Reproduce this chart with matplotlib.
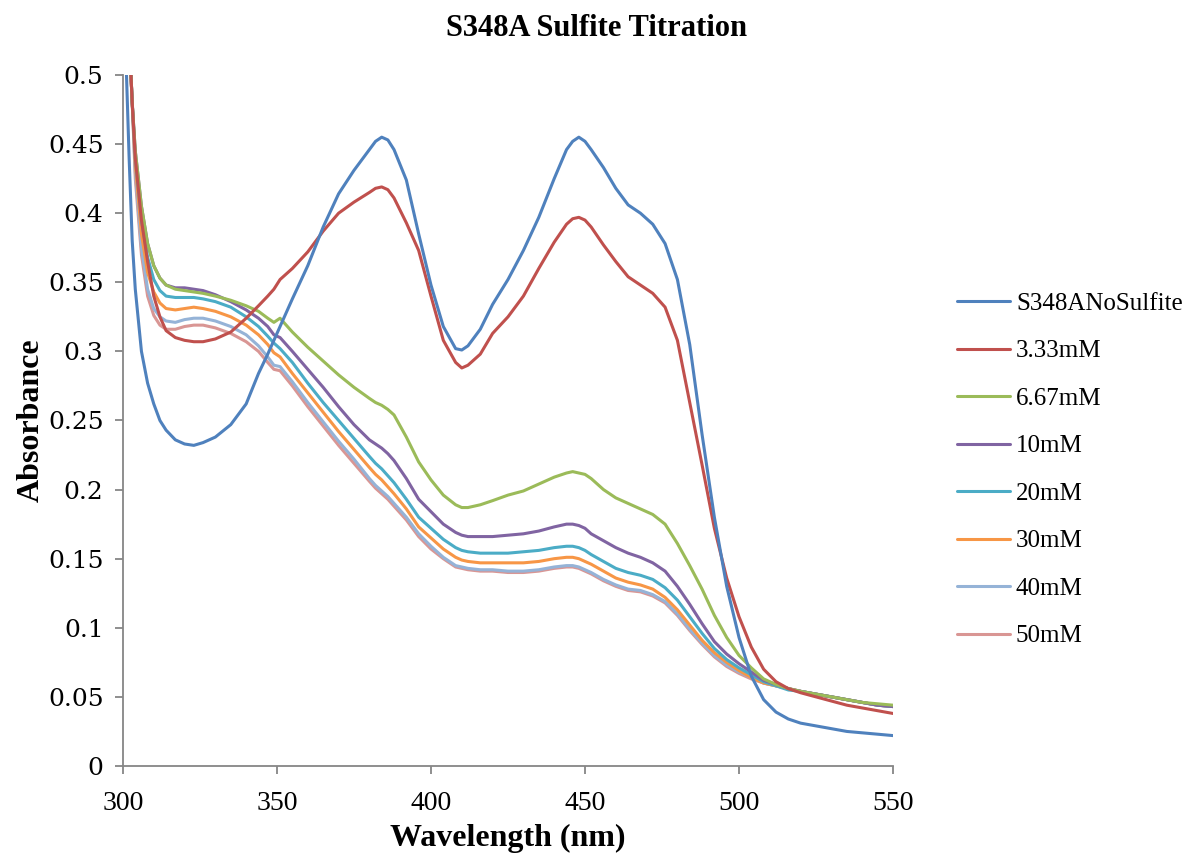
import matplotlib
matplotlib.use("Agg")
import matplotlib.pyplot as plt

# wavelength grid (nm)
wavelength = [300, 301, 302, 303, 304, 306, 308, 310, 312, 314,
              317, 320, 323, 326, 330, 335, 340, 344, 347, 349,
              351, 355, 360, 365, 370, 375, 380, 382, 384, 386,
              388, 392, 396, 400, 404, 408, 410, 412, 416, 420,
              425, 430, 435, 440, 444, 446, 448, 450, 452, 456,
              460, 464, 468, 472, 476, 480, 484, 488, 492, 496,
              500, 504, 508, 512, 516, 520, 525, 530, 535, 540,
              545, 550]

no_sulfite = [0.58, 0.51, 0.44, 0.38, 0.345, 0.300, 0.277, 0.262, 0.250, 0.243,
              0.236, 0.233, 0.232, 0.234, 0.238, 0.247, 0.262, 0.284, 0.298, 0.308,
              0.318, 0.338, 0.362, 0.390, 0.414, 0.431, 0.446, 0.452, 0.455, 0.453,
              0.446, 0.424, 0.385, 0.348, 0.318, 0.302, 0.301, 0.304, 0.316, 0.334,
              0.352, 0.373, 0.397, 0.425, 0.446, 0.452, 0.455, 0.452, 0.446, 0.433,
              0.418, 0.406, 0.400, 0.392, 0.378, 0.352, 0.305, 0.240, 0.180, 0.130,
              0.093, 0.065, 0.048, 0.039, 0.034, 0.031, 0.029, 0.027, 0.025, 0.024,
              0.023, 0.022]

mM_3_33 = [0.62, 0.58, 0.53, 0.48, 0.44, 0.395, 0.365, 0.340, 0.325, 0.315,
           0.310, 0.308, 0.307, 0.307, 0.309, 0.314, 0.324, 0.333, 0.340, 0.345,
           0.352, 0.360, 0.372, 0.387, 0.400, 0.408, 0.415, 0.418, 0.419, 0.417,
           0.411, 0.393, 0.373, 0.340, 0.308, 0.292, 0.288, 0.290, 0.298, 0.313,
           0.325, 0.340, 0.360, 0.379, 0.392, 0.396, 0.397, 0.395, 0.390, 0.377,
           0.365, 0.354, 0.348, 0.342, 0.332, 0.308, 0.263, 0.218, 0.172, 0.136,
           0.108, 0.086, 0.070, 0.061, 0.056, 0.053, 0.050, 0.047, 0.044, 0.042,
           0.040, 0.038]

mM_6_67 = [0.62, 0.58, 0.53, 0.48, 0.445, 0.405, 0.378, 0.362, 0.353, 0.348,
           0.345, 0.344, 0.343, 0.342, 0.340, 0.337, 0.333, 0.329, 0.324, 0.321,
           0.324, 0.314, 0.303, 0.293, 0.283, 0.274, 0.266, 0.263, 0.261, 0.258,
           0.254, 0.238, 0.220, 0.207, 0.196, 0.189, 0.187, 0.187, 0.189, 0.192,
           0.196, 0.199, 0.204, 0.209, 0.212, 0.213, 0.212, 0.211, 0.208, 0.200,
           0.194, 0.190, 0.186, 0.182, 0.175, 0.161, 0.145, 0.128, 0.109, 0.093,
           0.080, 0.071, 0.063, 0.059, 0.056, 0.054, 0.052, 0.050, 0.048, 0.046,
           0.045, 0.044]

mM_10 = [0.62, 0.58, 0.53, 0.48, 0.445, 0.405, 0.378, 0.362, 0.353, 0.348,
         0.346, 0.346, 0.345, 0.344, 0.341, 0.336, 0.330, 0.324, 0.318, 0.312,
         0.310, 0.300, 0.287, 0.274, 0.260, 0.247, 0.236, 0.233, 0.230, 0.226,
         0.221, 0.208, 0.193, 0.184, 0.175, 0.169, 0.167, 0.166, 0.166, 0.166,
         0.167, 0.168, 0.170, 0.173, 0.175, 0.175, 0.174, 0.172, 0.168, 0.163,
         0.158, 0.154, 0.151, 0.147, 0.141, 0.130, 0.117, 0.103, 0.090, 0.081,
         0.074, 0.068, 0.062, 0.059, 0.056, 0.054, 0.052, 0.050, 0.048, 0.046,
         0.044, 0.043]

mM_20 = [0.62, 0.58, 0.53, 0.48, 0.44, 0.395, 0.368, 0.352, 0.344, 0.340,
         0.339, 0.339, 0.339, 0.338, 0.336, 0.332, 0.325, 0.318, 0.311, 0.306,
         0.302, 0.292, 0.277, 0.263, 0.250, 0.237, 0.224, 0.219, 0.215, 0.210,
         0.205, 0.193, 0.180, 0.172, 0.164, 0.158, 0.156, 0.155, 0.154, 0.154,
         0.154, 0.155, 0.156, 0.158, 0.159, 0.159, 0.158, 0.156, 0.153, 0.148,
         0.143, 0.140, 0.138, 0.135, 0.129, 0.120, 0.108, 0.096, 0.085, 0.077,
         0.071, 0.066, 0.061, 0.058, 0.055, 0.054, 0.052, 0.050, 0.048, 0.046,
         0.044, 0.043]

mM_30 = [0.62, 0.58, 0.53, 0.48, 0.435, 0.385, 0.357, 0.343, 0.335, 0.331,
         0.330, 0.331, 0.332, 0.331, 0.329, 0.325, 0.319, 0.312, 0.305, 0.299,
         0.296, 0.284, 0.270, 0.256, 0.242, 0.229, 0.216, 0.211, 0.207, 0.202,
         0.197, 0.186, 0.173, 0.165, 0.157, 0.151, 0.149, 0.148, 0.147, 0.147,
         0.147, 0.147, 0.148, 0.150, 0.151, 0.151, 0.150, 0.148, 0.146, 0.141,
         0.136, 0.133, 0.131, 0.128, 0.122, 0.113, 0.102, 0.091, 0.082, 0.075,
         0.069, 0.064, 0.060, 0.058, 0.056, 0.054, 0.052, 0.050, 0.048, 0.046,
         0.044, 0.043]

mM_40 = [0.62, 0.58, 0.53, 0.48, 0.43, 0.375, 0.345, 0.331, 0.325, 0.322,
         0.321, 0.323, 0.324, 0.324, 0.322, 0.318, 0.312, 0.304, 0.296, 0.290,
         0.289, 0.278, 0.263, 0.249, 0.235, 0.222, 0.208, 0.203, 0.199, 0.195,
         0.190, 0.180, 0.168, 0.159, 0.151, 0.145, 0.144, 0.143, 0.142, 0.142,
         0.141, 0.141, 0.142, 0.144, 0.145, 0.145, 0.144, 0.142, 0.140, 0.135,
         0.131, 0.128, 0.127, 0.124, 0.119, 0.110, 0.099, 0.089, 0.080, 0.073,
         0.068, 0.064, 0.060, 0.058, 0.056, 0.054, 0.052, 0.050, 0.048, 0.046,
         0.044, 0.043]

mM_50 = [0.62, 0.58, 0.53, 0.48, 0.425, 0.370, 0.340, 0.326, 0.319, 0.316,
         0.316, 0.318, 0.319, 0.319, 0.317, 0.313, 0.307, 0.300, 0.292, 0.287,
         0.286, 0.275, 0.260, 0.246, 0.232, 0.219, 0.206, 0.201, 0.197, 0.193,
         0.188, 0.178, 0.166, 0.157, 0.150, 0.144, 0.143, 0.142, 0.141, 0.141,
         0.140, 0.140, 0.141, 0.143, 0.144, 0.144, 0.143, 0.141, 0.139, 0.134,
         0.130, 0.127, 0.126, 0.123, 0.118, 0.109, 0.098, 0.088, 0.079, 0.072,
         0.067, 0.063, 0.060, 0.058, 0.056, 0.054, 0.052, 0.050, 0.048, 0.046,
         0.044, 0.043]

labels = ["S348ANoSulfite", "3.33mM", "6.67mM", "10mM", "20mM", "30mM", "40mM", "50mM"]
series = [no_sulfite, mM_3_33, mM_6_67, mM_10, mM_20, mM_30, mM_40, mM_50]
colors = ["#4F81BD", "#C0504D", "#9BBB59", "#8064A2", "#4BACC6", "#F79646", "#95B3D7", "#D99694"]

fig = plt.figure(figsize=(11.95, 8.57), dpi=100)
ax = fig.add_axes([0.1029, 0.1062, 0.6444, 0.8063])

# draw the heaviest-titrated spectra first so the no-sulfite trace sits on top
for y, c, lab in zip(series[::-1], colors[::-1], labels[::-1]):
    ax.plot(wavelength, y, color=c, lw=2.2, label=lab,
            solid_capstyle="round", solid_joinstyle="round")

ax.set_xlim(300, 550)
ax.set_ylim(0, 0.5)
ax.set_xticks([300, 350, 400, 450, 500, 550])
ax.set_yticks([0, 0.05, 0.1, 0.15, 0.2, 0.25, 0.3, 0.35, 0.4, 0.45, 0.5])
ax.set_yticklabels(["0", "0.05", "0.1", "0.15", "0.2", "0.25", "0.3", "0.35", "0.4", "0.45", "0.5"])

for side in ["top", "right"]:
    ax.spines[side].set_visible(False)
for side in ["left", "bottom"]:
    ax.spines[side].set_color("#868686")
    ax.spines[side].set_linewidth(1.3)

ax.tick_params(axis="both", direction="out", length=6, width=1.3, color="#868686")
ax.tick_params(axis="x", pad=12)
ax.tick_params(axis="y", pad=8)
for t in ax.get_xticklabels():
    t.set_fontfamily("Liberation Serif")
    t.set_fontsize(20)
for t in ax.get_yticklabels():
    t.set_fontfamily("DejaVu Serif")
    t.set_fontsize(18)

fig.text(0.499, 1 - 28 / 857, "S348A Sulfite Titration", ha="center", va="center",
         fontsize=22, fontweight="bold", family="Liberation Serif")
ax.set_xlabel("Wavelength (nm)", fontsize=23, fontweight="bold", family="Liberation Serif", labelpad=6)
ax.set_ylabel("Absorbance", fontsize=23, fontweight="bold", family="Liberation Serif", labelpad=1.5)

handles, labs = ax.get_legend_handles_labels()
leg = fig.legend(handles[::-1], labs[::-1], loc="center left", bbox_to_anchor=(0.801, 0.4516),
                 frameon=False, prop={"family": "Liberation Serif", "size": 18},
                 handlelength=2.1, handletextpad=0.25, labelspacing=1.0,
                 borderpad=0, borderaxespad=0)
for line in leg.get_lines():
    line.set_linewidth(2.2)

fig.savefig("out.png", dpi=100)
